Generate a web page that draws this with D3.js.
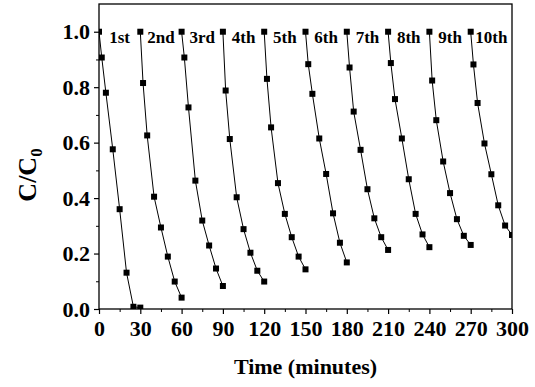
<!DOCTYPE html>
<html>
<head>
<meta charset="utf-8">
<script src="https://cdn.jsdelivr.net/npm/d3@7"></script>
<style>
  body { margin: 0; background: #fff; }
  text { font-family: "Liberation Serif", "Times New Roman", serif; font-weight: bold; fill: #000; }
</style>
</head>
<body>
<script>
// cycle names and sampling times inside one cycle (minutes)
var cycleNames = ["1st", "2nd", "3rd", "4th", "5th", "6th", "7th", "8th", "9th", "10th"];
var cycleLength = 30;
var sampleTimes = [0, 2, 5, 10, 15, 20, 25, 30];

// C/C0 read for each run
var run1  = [1.0, 0.907, 0.780, 0.576, 0.360, 0.131, 0.008, 0.005];
var run2  = [1.0, 0.815, 0.626, 0.405, 0.294, 0.189, 0.099, 0.041];
var run3  = [1.0, 0.907, 0.727, 0.463, 0.319, 0.229, 0.146, 0.083];
var run4  = [1.0, 0.788, 0.613, 0.403, 0.288, 0.203, 0.138, 0.099];
var run5  = [1.0, 0.830, 0.655, 0.454, 0.343, 0.259, 0.189, 0.143];
var run6  = [1.0, 0.883, 0.776, 0.615, 0.487, 0.345, 0.239, 0.168];
var run7  = [1.0, 0.871, 0.712, 0.574, 0.432, 0.327, 0.259, 0.213];
var run8  = [1.0, 0.887, 0.757, 0.615, 0.468, 0.343, 0.269, 0.223];
var run9  = [1.0, 0.824, 0.681, 0.532, 0.418, 0.324, 0.264, 0.231];
var run10 = [1.0, 0.882, 0.743, 0.597, 0.486, 0.374, 0.301, 0.267];
var runs = [run1, run2, run3, run4, run5, run6, run7, run8, run9, run10];

var xTicks = [0, 30, 60, 90, 120, 150, 180, 210, 240, 270, 300];
var yTicks = [0.0, 0.2, 0.4, 0.6, 0.8, 1.0];

var W = 535, H = 387;
var margin = {top: 4, right: 23, bottom: 78, left: 99};

var svg = d3.select("body").append("svg")
    .attr("width", W)
    .attr("height", H);

var x = d3.scaleLinear().domain([0, 300]).range([margin.left, W - margin.right]);
var y = d3.scaleLinear().domain([0, 1.1]).range([H - margin.bottom, margin.top]);

svg.append("clipPath").attr("id", "plot")
  .append("rect")
    .attr("x", x(0)).attr("y", y(1.1))
    .attr("width", x(300) - x(0)).attr("height", y(0) - y(1.1));

// frame
svg.append("rect")
    .attr("x", x(0)).attr("y", y(1.1))
    .attr("width", x(300) - x(0)).attr("height", y(0) - y(1.1))
    .attr("fill", "none").attr("stroke", "#000").attr("stroke-width", 1.3);

// minor ticks
var minorX = d3.range(15, 300, 30);
var minorY = d3.range(0.1, 1.05, 0.2);
svg.append("g")
    .attr("transform", "translate(0," + y(0) + ")")
    .call(d3.axisBottom(x).tickValues(minorX).tickSize(3).tickFormat(""))
    .call(function(g){ g.select(".domain").remove(); });
svg.append("g")
    .attr("transform", "translate(" + x(0) + ",0)")
    .call(d3.axisLeft(y).tickValues(minorY).tickSize(3).tickFormat(""))
    .call(function(g){ g.select(".domain").remove(); });

// major axes
var xAxis = svg.append("g")
    .attr("transform", "translate(0," + y(0) + ")")
    .call(d3.axisBottom(x).tickValues(xTicks).tickSize(5).tickPadding(6).tickFormat(d3.format("d")));
var yAxis = svg.append("g")
    .attr("transform", "translate(" + x(0) + ",0)")
    .call(d3.axisLeft(y).tickValues(yTicks).tickSize(5).tickPadding(4).tickFormat(d3.format(".1f")));

[xAxis, yAxis].forEach(function(a){
  a.select(".domain").remove();
  a.selectAll("line").attr("stroke-width", 1.2);
  a.selectAll("text")
    .attr("font-family", "Liberation Serif")
    .attr("font-weight", "bold")
    .attr("font-size", 22);
});
svg.selectAll(".tick line").attr("stroke", "#000");

// runs
var line = d3.line()
    .x(function(d){ return x(d.t); })
    .y(function(d){ return y(d.v); });

var plot = svg.append("g").attr("clip-path", "url(#plot)");

runs.forEach(function(vals, i){
  var pts = vals.map(function(v, j){ return {t: i * cycleLength + sampleTimes[j], v: v}; });
  plot.append("path")
      .datum(pts)
      .attr("d", line)
      .attr("fill", "none")
      .attr("stroke", "#000")
      .attr("stroke-width", 1);
  plot.selectAll(null)
      .data(pts)
      .enter().append("rect")
      .attr("x", function(d){ return x(d.t) - 3; })
      .attr("y", function(d){ return y(d.v) - 3; })
      .attr("width", 6)
      .attr("height", 6)
      .attr("fill", "#000");
});

// cycle labels
svg.selectAll(".cyc")
    .data(cycleNames)
    .enter().append("text")
    .attr("class", "cyc")
    .attr("x", function(d, i){ return x(i * cycleLength + 15); })
    .attr("y", y(0.98))
    .attr("dy", "0.35em")
    .attr("text-anchor", "middle")
    .attr("font-size", 17)
    .text(function(d){ return d; });

// axis titles
svg.append("text")
    .attr("x", (x(0) + x(300)) / 2)
    .attr("y", 374)
    .attr("text-anchor", "middle")
    .attr("font-size", 22)
    .text("Time (minutes)");

var yt = svg.append("text")
    .attr("transform", "translate(36,175) rotate(-90)")
    .attr("text-anchor", "middle")
    .attr("font-size", 26);
yt.append("tspan").text("C/C");
yt.append("tspan").attr("font-size", 17).attr("dy", 6).text("0");
</script>
</body>
</html>
